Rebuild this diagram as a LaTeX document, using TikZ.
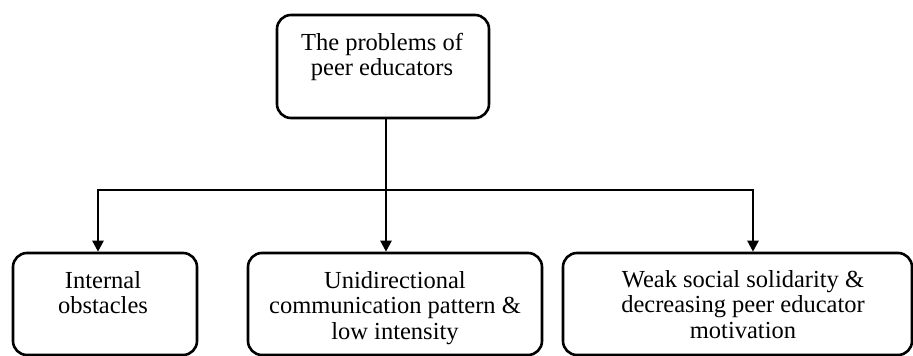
\documentclass[tikz,border=0pt]{standalone}
\usepackage{fontspec}
\setmainfont{Liberation Serif}
\usetikzlibrary{arrows.meta}
\begin{document}
\begin{tikzpicture}[x=1pt,y=-1pt,
  box/.style={draw, line width=2.6pt, rounded corners=14pt, inner sep=0pt},
  txt/.style={font=\fontsize{24.5}{25.5}\selectfont, align=center, inner sep=0pt, anchor=north},
  conn/.style={line width=2.4pt, line join=miter},
  arr/.style={conn, -{Triangle[length=11pt,width=11pt]}}]
\useasboundingbox (0,0) rectangle (913,356);
% boxes
\node[box, minimum width=212pt, minimum height=103pt] (top) at (383,66.5) {};
\node[box, minimum width=184pt, minimum height=102pt] (lft) at (105,304) {};
\node[box, minimum width=294pt, minimum height=102pt] (mid) at (395,304) {};
\node[box, minimum width=349pt, minimum height=102pt] (rgt) at (737.5,304) {};
% texts
\node[txt] (ttop) at (382,33) {The problems of\\peer educators};
\node[txt] (tlft) at (103,271) {Internal\\obstacles};
\node[txt] (tmid) at (395,271) {Unidirectional\\communication pattern \&\\low intensity};
\node[txt] (trgt) at (743,270) {Weak social solidarity \&\\decreasing peer educator\\motivation};
% connectors
\coordinate (j) at (386,190);
\coordinate (jl) at (98,190);
\coordinate (jr) at (753,190);
\draw[conn] (top.south -| j) -- (j);
\draw[arr] (j) -- (j |- mid.north);
\draw[arr] (j) -- (jl) -- (jl |- lft.north);
\draw[arr] (j) -- (jr) -- (jr |- rgt.north);
\end{tikzpicture}
\end{document}
